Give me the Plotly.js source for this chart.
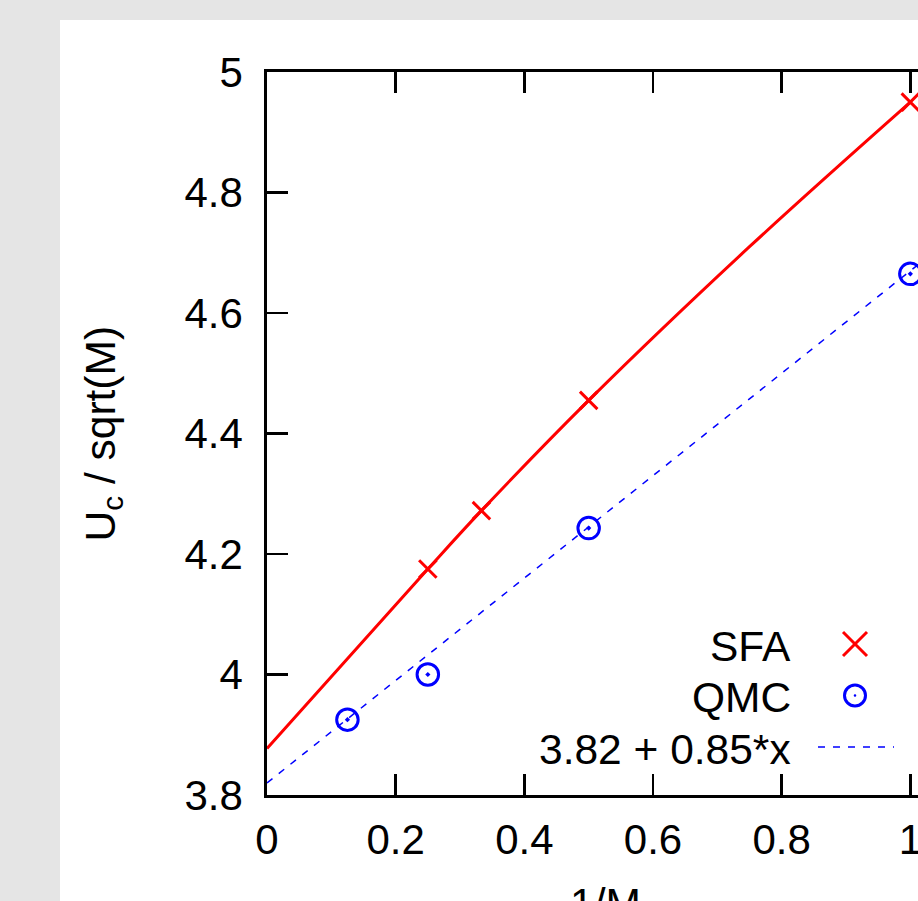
<!DOCTYPE html>
<html>
<head>
<meta charset="utf-8">
<script src="https://cdn.plot.ly/plotly-3.0.1.min.js"></script>
<style>
html, body { margin: 0; padding: 0; overflow: hidden; background: #e5e5e5; }
#chart { width: 1100px; height: 1000px; }
</style>
</head>
<body>
<div id="chart"></div>
<script>
// ---- data ----
const sfaX = [0.25, 0.3333, 0.5, 1.0];
const sfaY = [4.175, 4.272, 4.455, 4.95];
const sfaCurveX = [0.0, 0.25, 0.3333, 0.5, 0.75, 1.0];
const sfaCurveY = [3.877, 4.175, 4.272, 4.455, 4.71, 4.95];
const qmcX = [0.125, 0.25, 0.5, 1.0];
const qmcY = [3.925, 4.0, 4.243, 4.665];
const fitX = [0.0, 1.2];
const fitY = [3.82, 4.84];          // 3.82 + 0.85*x
const legendLabels = ['SFA', 'QMC', '3.82 + 0.85*x'];
const xTitle = '1/M';
const yTitle = 'U<sub>c</sub> / sqrt(M)';

// ---- layout geometry (pixels) ----
const W = 1100, H = 1000;
const L = 267, T = 72, PW = 772, PH = 723;
const px = x => (x - L) / PW;
const py = y => (T + PH - y) / PH;
const FONT = 'Liberation Sans, Arial, Helvetica, sans-serif';
const RED = '#ff0000', BLUE = '#0000ff';

const traces = [
  { x: sfaCurveX, y: sfaCurveY, mode: 'lines', line: { color: RED, width: 3, shape: 'spline' }, hoverinfo: 'skip' },
  { x: fitX, y: fitY, mode: 'lines', line: { color: BLUE, width: 1.5, dash: '7px,8px' }, hoverinfo: 'skip' },
  { x: sfaX, y: sfaY, mode: 'markers', marker: { symbol: 'x-thin', size: 17.5, color: RED, line: { color: RED, width: 3 } } },
  { x: qmcX, y: qmcY, mode: 'markers', marker: { symbol: 'circle-open-dot', size: 21.5, color: BLUE, line: { color: BLUE, width: 3 } } }
];

const legendRowsY = [644, 695.5, 747];
const annFont = { family: FONT, size: 42.5, color: '#000' };
const annotations = legendLabels.map((t, i) => ({
  text: t, xref: 'paper', yref: 'paper', x: px(793), y: py(legendRowsY[i] + 2),
  xanchor: 'right', yanchor: 'middle', showarrow: false, font: annFont
}));
annotations.push({ text: xTitle, xref: 'paper', yref: 'paper', x: px(605), y: py(904),
  xanchor: 'center', yanchor: 'middle', showarrow: false, font: annFont });
annotations.push({ text: yTitle, xref: 'paper', yref: 'paper', x: px(103), y: py(433.5),
  xanchor: 'center', yanchor: 'middle', textangle: -90, showarrow: false, font: annFont });

const shapes = [
  // white panel
  { type: 'rect', xref: 'paper', yref: 'paper', layer: 'below', x0: px(60), x1: px(1200), y0: py(1100), y1: py(20),
    fillcolor: '#ffffff', line: { width: 0 } },
  // legend sample: cross
  { type: 'line', xref: 'paper', yref: 'paper', x0: px(843), x1: px(867), y0: py(632), y1: py(656), line: { color: RED, width: 3 } },
  { type: 'line', xref: 'paper', yref: 'paper', x0: px(843), x1: px(867), y0: py(656), y1: py(632), line: { color: RED, width: 3 } },
  // legend sample: circle with dot
  { type: 'circle', xref: 'paper', yref: 'paper', x0: px(844.5), x1: px(865.5), y0: py(706), y1: py(685), line: { color: BLUE, width: 3 } },
  { type: 'circle', xref: 'paper', yref: 'paper', x0: px(853.7), x1: px(856.3), y0: py(696.8), y1: py(694.2), fillcolor: BLUE, line: { width: 0 } },
  // legend sample: dashed line
  { type: 'line', xref: 'paper', yref: 'paper', x0: px(818), x1: px(894), y0: py(747), y1: py(747), line: { color: BLUE, width: 1.5, dash: '7px,8px' } }
];

const axisCommon = {
  showline: true, linecolor: '#000', linewidth: 2.7, mirror: 'ticks',
  ticks: 'inside', ticklen: 21, tickwidth: 2.7, tickcolor: '#000',
  showgrid: false, zeroline: false, fixedrange: true,
  tickfont: { family: FONT, size: 42, color: '#000' }
};

const layout = {
  width: W, height: H,
  margin: { l: L, r: W - L - PW, t: T, b: H - T - PH, pad: 0 },
  paper_bgcolor: '#e5e5e5', plot_bgcolor: '#ffffff',
  showlegend: false,
  xaxis: Object.assign({}, axisCommon, { range: [0, 1.2], tick0: 0, dtick: 0.2, ticklabelstandoff: 6 }),
  yaxis: Object.assign({}, axisCommon, { range: [3.8, 5.0], tick0: 3.8, dtick: 0.2, ticklabelstandoff: 13 }),
  annotations: annotations,
  shapes: shapes
};

Plotly.newPlot('chart', traces, layout, { displayModeBar: false, staticPlot: true });
</script>
</body>
</html>
